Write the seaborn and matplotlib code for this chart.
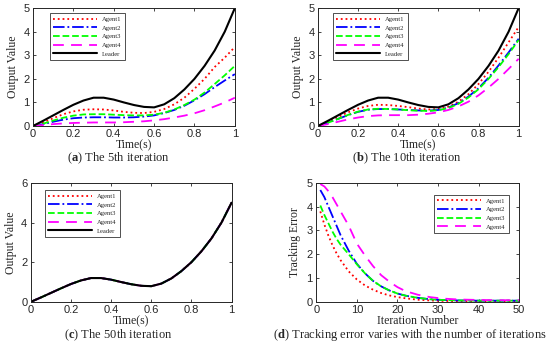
import matplotlib
matplotlib.use("Agg")
import matplotlib.pyplot as plt
import seaborn as sns

# ---- data ----
time_s = [0.0, 0.05, 0.1, 0.15, 0.2, 0.25, 0.3, 0.35, 0.4, 0.45, 0.5,
          0.55, 0.6, 0.65, 0.7, 0.75, 0.8, 0.85, 0.9, 0.95, 1.0]

leader = [0, 0.22, 0.45, 0.68, 0.9, 1.08, 1.2, 1.2, 1.12, 1.0, 0.89,
          0.81, 0.79, 0.92, 1.18, 1.55, 2.0, 2.55, 3.2, 4.0, 5.0]

# 5th iteration
it5_agent1 = [0, 0.15, 0.33, 0.5, 0.62, 0.69, 0.71, 0.7, 0.66, 0.6, 0.56,
              0.55, 0.6, 0.72, 0.92, 1.2, 1.58, 2.0, 2.5, 2.9, 3.35]
it5_agent2 = [0, 0.08, 0.18, 0.27, 0.33, 0.36, 0.37, 0.37, 0.36, 0.36, 0.37,
              0.4, 0.45, 0.55, 0.68, 0.86, 1.09, 1.35, 1.65, 1.93, 2.2]
it5_agent3 = [0, 0.1, 0.23, 0.35, 0.44, 0.49, 0.5, 0.5, 0.48, 0.46, 0.45,
              0.45, 0.48, 0.56, 0.7, 0.89, 1.12, 1.42, 1.78, 2.15, 2.55]
it5_agent4 = [0, 0.04, 0.08, 0.11, 0.13, 0.14, 0.15, 0.15, 0.15, 0.16, 0.18,
              0.2, 0.24, 0.29, 0.36, 0.44, 0.54, 0.67, 0.83, 1.0, 1.2]

# 10th iteration
it10_agent1 = [0, 0.18, 0.38, 0.58, 0.74, 0.85, 0.9, 0.89, 0.85, 0.8, 0.74,
               0.7, 0.72, 0.82, 1.03, 1.35, 1.78, 2.3, 2.9, 3.55, 4.2]
it10_agent2 = [0, 0.14, 0.3, 0.46, 0.6, 0.69, 0.72, 0.72, 0.7, 0.68, 0.66,
               0.65, 0.68, 0.78, 0.97, 1.25, 1.6, 2.05, 2.57, 3.12, 3.7]
it10_agent3 = [0, 0.14, 0.3, 0.47, 0.61, 0.7, 0.73, 0.72, 0.7, 0.67, 0.65,
               0.64, 0.67, 0.76, 0.94, 1.21, 1.56, 2.0, 2.5, 3.05, 3.65]
it10_agent4 = [0, 0.08, 0.18, 0.28, 0.36, 0.42, 0.45, 0.46, 0.46, 0.46, 0.48,
               0.52, 0.58, 0.68, 0.83, 1.03, 1.3, 1.63, 2.0, 2.42, 2.85]

# 50th iteration: every agent sits on the leader curve
it50_agent1 = leader
it50_agent2 = leader
it50_agent3 = leader
it50_agent4 = leader

# tracking error vs iteration number
iterations = [1, 2, 3, 4, 5, 6, 8, 10, 12, 14, 16, 18, 20, 22, 25, 28, 31, 35, 40, 45, 50]
err_agent1 = [3.8, 3.25, 2.78, 2.38, 2.04, 1.75, 1.28, 0.94, 0.69, 0.51, 0.37,
              0.27, 0.2, 0.15, 0.09, 0.06, 0.04, 0.03, 0.02, 0.02, 0.02]
err_agent2 = [4.7, 4.4, 4.0, 3.6, 3.2, 2.8, 2.15, 1.6, 1.2, 0.88, 0.65,
              0.48, 0.35, 0.26, 0.17, 0.11, 0.08, 0.06, 0.05, 0.05, 0.05]
err_agent3 = [4.05, 3.65, 3.3, 2.95, 2.65, 2.4, 2.0, 1.58, 1.2, 0.88, 0.65,
              0.48, 0.35, 0.26, 0.17, 0.11, 0.08, 0.06, 0.05, 0.05, 0.05]
err_agent4 = [4.95, 4.85, 4.65, 4.4, 4.1, 3.8, 3.2, 2.45, 1.95, 1.5, 1.12,
              0.85, 0.62, 0.45, 0.3, 0.2, 0.14, 0.1, 0.08, 0.07, 0.07]

agent_names = ["Agent1", "Agent2", "Agent3", "Agent4"]
agent_colors = ["#FF0000", "#0000FF", "#00FF00", "#FF00FF"]
agent_styles = [":", "-.", "--", (0, (6, 4))]

# ---- styling ----
sns.set_theme(style="ticks")
plt.rcParams.update({
    "font.family": ["Liberation Sans", "DejaVu Sans"],
    "mathtext.fontset": "custom",
    "mathtext.rm": "Liberation Serif",
    "mathtext.bf": "Liberation Serif:bold",
    "xtick.direction": "in",
    "ytick.direction": "in",
    "xtick.top": True,
    "ytick.right": True,
    "xtick.major.size": 2.5,
    "ytick.major.size": 2.5,
    "xtick.major.width": 0.6,
    "ytick.major.width": 0.6,
    "xtick.labelsize": 8,
    "ytick.labelsize": 8,
    "xtick.major.pad": 2.5,
    "ytick.major.pad": 2.5,
    "axes.linewidth": 0.7,
    "axes.edgecolor": "#262626",
})
serif = ["Liberation Serif", "DejaVu Serif"]

fig = plt.figure(figsize=(5.5, 3.51), dpi=100)
ax_a = fig.add_axes([0.060, 0.641, 0.367, 0.336])
ax_b = fig.add_axes([0.578, 0.641, 0.365, 0.336])
ax_c = fig.add_axes([0.056, 0.140, 0.365, 0.339])
ax_d = fig.add_axes([0.575, 0.140, 0.369, 0.339])

legend_kw = dict(loc="upper left", borderaxespad=0,
                 prop={"family": serif, "size": 4.8}, handlelength=6.5,
                 labelspacing=0.45, fancybox=False, edgecolor="#333333",
                 framealpha=1, borderpad=0.5)


def draw_outputs(ax, agents, ymax, yticks, anchor):
    for name, vals, col, ls in zip(agent_names, agents, agent_colors, agent_styles):
        sns.lineplot(x=time_s, y=vals, ax=ax, color=col, linestyle=ls,
                     linewidth=1.3, label=name)
    sns.lineplot(x=time_s, y=leader, ax=ax, color="black", linewidth=1.5, label="Leader")
    ax.set_xlim(0, 1)
    ax.set_ylim(0, ymax)
    ax.set_xticks([0, 0.2, 0.4, 0.6, 0.8, 1])
    ax.set_xticklabels(["0", "0.2", "0.4", "0.6", "0.8", "1"])
    ax.set_yticks(yticks)
    ax.set_xlabel("Time(s)", fontsize=8.5, family=serif, labelpad=0)
    ax.set_ylabel("Output Value", fontsize=8.5, family=serif, labelpad=3)
    ax.legend(bbox_to_anchor=anchor, **legend_kw)
    ax.get_legend().get_frame().set_linewidth(0.6)


draw_outputs(ax_a, [it5_agent1, it5_agent2, it5_agent3, it5_agent4], 5, [0, 1, 2, 3, 4, 5], (0.084, 0.958))
draw_outputs(ax_b, [it10_agent1, it10_agent2, it10_agent3, it10_agent4], 5, [0, 1, 2, 3, 4, 5], (0.075, 0.958))
draw_outputs(ax_c, [it50_agent1, it50_agent2, it50_agent3, it50_agent4], 6, [0, 2, 4, 6], (0.07, 0.94))

# tracking error panel
for name, vals, col, ls in zip(agent_names, [err_agent1, err_agent2, err_agent3, err_agent4],
                               agent_colors, agent_styles):
    sns.lineplot(x=iterations, y=vals, ax=ax_d, color=col, linestyle=ls,
                 linewidth=1.3, label=name)
ax_d.set_xlim(0, 50)
ax_d.set_ylim(0, 5)
ax_d.set_xticks([0, 10, 20, 30, 40, 50])
ax_d.set_yticks([0, 1, 2, 3, 4, 5])
ax_d.set_xlabel("Iteration Number", fontsize=8.5, family=serif, labelpad=0)
ax_d.set_ylabel("Tracking Error", fontsize=8.5, family=serif, labelpad=4)
ax_d.legend(bbox_to_anchor=(0.58, 0.90), **legend_kw)
ax_d.get_legend().get_frame().set_linewidth(0.6)

# sub-figure captions
cap = dict(fontsize=9, ha="center", va="center", family=serif)
fig.text(118 / 550, 1 - 158 / 351, r"($\mathbf{a}$) The 5th iteration", **cap)
fig.text(407 / 550, 1 - 158 / 351, r"($\mathbf{b}$) The 10th iteration", **cap)
fig.text(118 / 550, 1 - 335 / 351, r"($\mathbf{c}$) The 50th iteration", **cap)
fig.text(410 / 550, 1 - 335 / 351,
         r"($\mathbf{d}$) Tracking error varies with the number of iterations", **cap)

fig.savefig("out.png", dpi=100)
